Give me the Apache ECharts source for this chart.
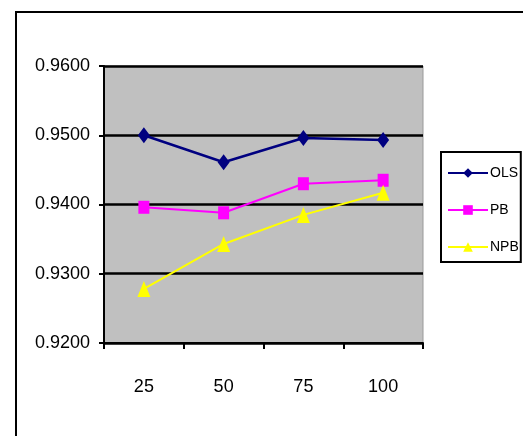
<!DOCTYPE html>
<html>
<head>
<meta charset="utf-8">
<style>
  html, body { margin: 0; padding: 0; background: #ffffff; }
  #chart { width: 523px; height: 436px; }
</style>
<script src="https://cdn.jsdelivr.net/npm/echarts@6/dist/echarts.min.js"></script>
</head>
<body>
<div id="chart"></div>
<script>
// Sample sizes along the x axis
const categories = ['25', '50', '75', '100'];
// Estimated values for each method
const olsValues = [0.9500, 0.9461, 0.9496, 0.9493];
const pbValues  = [0.9396, 0.9388, 0.9430, 0.9435];
const npbValues = [0.9278, 0.9343, 0.9385, 0.9417];
// Value axis range and step
const yMin = 0.92;
const yMax = 0.96;
const yStep = 0.01;

const font = '"Liberation Sans", Arial, sans-serif';

const chart = echarts.init(document.getElementById('chart'), null, { renderer: 'canvas' });

function lineSeries(name, data, color, symbol, size, width) {
  return {
    name: name,
    type: 'line',
    data: data,
    symbol: symbol,
    symbolSize: size,
    showAllSymbol: true,
    lineStyle: { color: color, width: width },
    itemStyle: { color: color },
    emphasis: { disabled: true },
    z: 5
  };
}

chart.setOption({
  animation: false,
  backgroundColor: '#ffffff',
  graphic: [{
    type: 'rect',
    shape: { x: 16, y: 12, width: 600, height: 500 },
    style: { fill: 'none', stroke: '#000000', lineWidth: 2 },
    z: 0
  }],
  grid: {
    left: 104, top: 66, right: 100, bottom: 93,
    show: true,
    backgroundColor: '#c0c0c0',
    borderColor: '#9a9a9a',
    borderWidth: 1
  },
  legend: {
    orient: 'vertical',
    left: 441, top: 152,
    padding: [14, 2, 8, 6],
    itemGap: 23,
    itemWidth: 40,
    itemHeight: 12,
    backgroundColor: '#ffffff',
    borderColor: '#000000',
    borderWidth: 2,
    borderRadius: 0,
    textStyle: { fontFamily: font, fontSize: 14, color: '#000000', padding: [0, 0, 0, -3] },
    data: ['OLS', 'PB', 'NPB']
  },
  xAxis: {
    type: 'category',
    data: categories,
    boundaryGap: true,
    axisLine: { show: true, lineStyle: { color: '#000000', width: 2 } },
    axisTick: { show: true, length: 6, lineStyle: { color: '#000000', width: 2 } },
    axisLabel: { margin: 35, fontFamily: font, fontSize: 18, color: '#000000' },
    splitLine: { show: false }
  },
  yAxis: {
    type: 'value',
    min: yMin, max: yMax, interval: yStep,
    axisLine: { show: true, lineStyle: { color: '#000000', width: 2 } },
    axisTick: { show: true, length: 5, lineStyle: { color: '#000000', width: 2 } },
    axisLabel: {
      margin: 14, fontFamily: font, fontSize: 18, color: '#000000',
      formatter: v => v.toFixed(4)
    },
    splitLine: { show: true, lineStyle: { color: '#000000', width: 2.5 } }
  },
  series: [
    lineSeries('OLS', olsValues, '#000080', 'diamond', [12, 16], 2.5),
    lineSeries('PB', pbValues, '#ff00ff', 'rect', [11, 13], 2),
    lineSeries('NPB', npbValues, '#ffff00', 'triangle', [13, 16], 2)
  ]
});
</script>
</body>
</html>
